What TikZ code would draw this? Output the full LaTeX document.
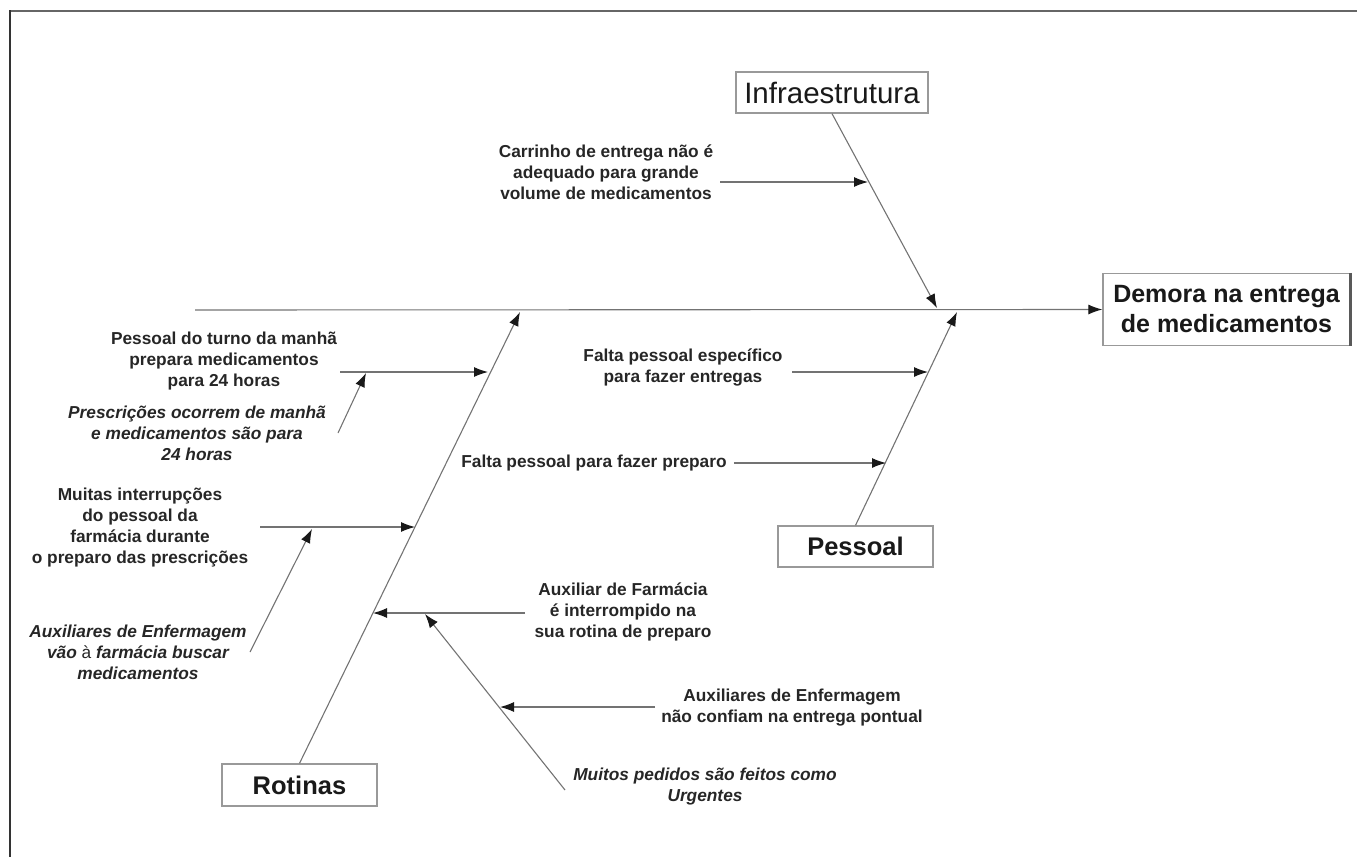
\documentclass[tikz,border=0pt]{standalone}
\usepackage{fontspec}
\setmainfont{Liberation Sans}
\usetikzlibrary{arrows.meta}
\begin{document}
\begin{tikzpicture}[x=1pt,y=-1pt,
  bone/.style={draw=black!55, line width=1.1pt},
  arr/.style={bone, -{Latex[length=14pt,width=10pt,color=black!90]}},
  catbox/.style={draw=black!40, line width=1.3pt, fill=white, inner sep=0pt,
    minimum width=#1, minimum height=41pt, text=black!90,
    font=\bfseries\fontsize{25.5}{30}\selectfont},
  cause/.style={align=center, inner sep=0pt, text=black!85,
    font=\bfseries\fontsize{17.3}{21}\selectfont},
  icause/.style={cause, font=\bfseries\itshape\fontsize{17.3}{21}\selectfont}]
  \useasboundingbox (0,0) rectangle (1357,857);
  % frame
  \draw[black!60, line width=2pt] (10,11) -- (1357,11);
  \draw[black!80, line width=2pt] (10,10) -- (10,857);

  % effect and categories
  \node[catbox=247pt, minimum height=72pt, align=center,
    font=\bfseries\fontsize{25}{30}\selectfont] (effect) at (1226.5,309.5)
    {Demora na entrega\\de medicamentos};
  \draw[black!65, line width=3pt] (effect.north east) -- (effect.south east);
  \node[catbox=192pt, font=\fontsize{29.5}{33}\selectfont] (infra) at (832,92.5) {Infraestrutura};
  \node[catbox=155pt] (pessoal) at (855.5,546.5) {Pessoal};
  \node[catbox=155pt, minimum height=42pt] (rotinas) at (299.5,785) {Rotinas};

  \coordinate (spine) at (195,310);
  \coordinate (infraTip) at (937,308);
  \coordinate (pessoalTip) at (957,312);
  \coordinate (rotinasTip) at (520,312);
  \draw[arr] (spine) -- (effect.west);
  \draw[arr] (infra.south) -- (infraTip);
  \draw[arr] (pessoal.north) -- (pessoalTip);
  \draw[arr] (rotinas.north) -- (rotinasTip);

  % Infraestrutura
  \node[cause] (carrinho) at (606,172)
    {Carrinho de entrega não é\\adequado para grande\\volume de medicamentos};
  \coordinate (carrinhoS) at (720,182);
  \coordinate (carrinhoE) at (868,182);
  \draw[arr] (carrinhoS) -- (carrinhoE);

  % Pessoal
  \node[cause] (especifico) at (683,367)
    {Falta pessoal específico\\para fazer entregas};
  \coordinate (especificoS) at (792,372);
  \coordinate (especificoE) at (928,372);
  \draw[arr] (especificoS) -- (especificoE);
  \node[cause] (preparo) at (594,463) {Falta pessoal para fazer preparo};
  \coordinate (preparoE) at (886,463);
  \draw[arr] ([xshift=7pt]preparo.east) -- (preparoE);

  % Rotinas
  \node[cause] (turno) at (224,361)
    {Pessoal do turno da manhã\\prepara medicamentos\\para 24 horas};
  \coordinate (turnoS) at (340,372);
  \coordinate (turnoE) at (488,372);
  \coordinate (turnoSub) at (366,373);
  \draw[arr] (turnoS) -- (turnoE);
  \node[icause] (prescr) at (197,433)
    {Prescrições ocorrem de manhã\\e medicamentos são para\\24 horas};
  \coordinate (prescrS) at (338,433);
  \draw[arr] (prescrS) -- (turnoSub);

  \node[cause] (interrup) at (140,528)
    {Muitas interrupções\\do pessoal da\\farmácia durante\\o preparo das prescrições};
  \coordinate (interrupS) at (260,527);
  \coordinate (interrupE) at (415,527);
  \coordinate (interrupSub) at (312,529);
  \draw[arr] (interrupS) -- (interrupE);
  \node[icause] (buscar) at (138,652)
    {Auxiliares de Enfermagem\\vão {\upshape\mdseries à} farmácia buscar\\medicamentos};
  \coordinate (buscarS) at (250,652);
  \draw[arr] (buscarS) -- (interrupSub);

  \node[cause] (farmacia) at (623,612)
    {Auxiliar de Farmácia\\é interrompido na\\sua rotina de preparo};
  \coordinate (farmaciaS) at (525,613);
  \coordinate (farmaciaE) at (373,613);
  \coordinate (farmaciaSub) at (425,614);
  \draw[arr] (farmaciaS) -- (farmaciaE);
  \coordinate (pedidosS) at (565,790);
  \coordinate (confiamE) at (500,707);
  \draw[arr] (pedidosS) -- (farmaciaSub);
  \node[cause] (confiam) at (792,708)
    {Auxiliares de Enfermagem\\não confiam na entrega pontual};
  \coordinate (confiamS) at (655,707);
  \draw[arr] (confiamS) -- (confiamE);
  \node[icause] (pedidos) at (705,787)
    {Muitos pedidos são feitos como\\Urgentes};
\end{tikzpicture}
\end{document}
